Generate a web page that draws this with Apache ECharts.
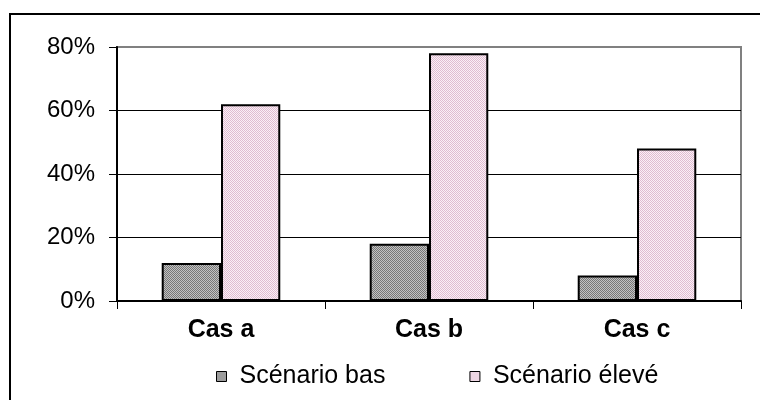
<!DOCTYPE html>
<html>
<head>
<meta charset="utf-8">
<script src="https://cdn.jsdelivr.net/npm/echarts@6/dist/echarts.min.js"></script>
<style>
  html, body { margin: 0; padding: 0; background: #fff; }
  #chart { width: 760px; height: 400px; }
</style>
</head>
<body>
<div id="chart"></div>
<script>
  // data
  const categories = ['Cas a', 'Cas b', 'Cas c']
  const scenarioBas = [12, 18, 8]
  const scenarioEleve = [62, 78, 48]
  const seriesNames = ['Scénario bas', 'Scénario élevé']

  // small 2x2 dither patterns, like the old office fills
  function makePattern(c1, c2) {
    let cv = document.createElement('canvas')
    cv.width = 2
    cv.height = 2
    let ctx = cv.getContext('2d')
    ctx.fillStyle = c2
    ctx.fillRect(0, 0, 2, 2)
    ctx.fillStyle = c1
    ctx.fillRect(0, 0, 1, 1)
    ctx.fillRect(1, 1, 1, 1)
    return { image: cv, repeat: 'repeat' }
  }
  const grayFill = makePattern('#777777', '#c2c2c2')
  const pinkFill = makePattern('#e0bcd1', '#faf0f6')

  const font = '"Liberation Sans", Arial, sans-serif'

  let chart = echarts.init(document.getElementById('chart'), null, { renderer: 'canvas' })
  chart.setOption({
    animation: false,
    backgroundColor: '#fff',
    graphic: [{
      type: 'rect',
      shape: { x: 10, y: 14, width: 800, height: 450 },
      style: { fill: 'none', stroke: '#000', lineWidth: 2 },
      silent: true
    }],
    grid: {
      left: 117,
      right: 19,
      top: 47,
      bottom: 99,
      show: true,
      borderColor: '#808080',
      borderWidth: 2
    },
    legend: {
      data: seriesNames,
      left: 211,
      top: 359,
      icon: 'rect',
      itemWidth: 10,
      itemHeight: 10,
      itemGap: 84,
      itemStyle: { borderColor: '#000', borderWidth: 1 },
      textStyle: { fontFamily: font, fontSize: 25, color: '#000', padding: [0, 0, 0, 8] }
    },
    xAxis: {
      type: 'category',
      data: categories,
      axisLine: { lineStyle: { color: '#000', width: 2 } },
      axisTick: { show: true, length: 8, lineStyle: { color: '#000' } },
      axisLabel: { fontFamily: font, fontSize: 25, fontWeight: 'bold', color: '#000', margin: 17 }
    },
    yAxis: {
      type: 'value',
      min: 0,
      max: 80,
      interval: 20,
      axisLine: { show: true, lineStyle: { color: '#000', width: 2 } },
      axisTick: { show: true, length: 8, lineStyle: { color: '#000' } },
      axisLabel: {
        fontFamily: font, fontSize: 24, color: '#000', margin: 22,
        formatter: '{value}%'
      },
      splitLine: { show: true, showMaxLine: false, lineStyle: { color: '#000', width: 1 } }
    },
    series: [
      {
        name: seriesNames[0],
        type: 'bar',
        data: scenarioBas,
        barGap: '0%',
        barCategoryGap: '43%',
        itemStyle: { color: grayFill, borderColor: '#000', borderWidth: 2 }
      },
      {
        name: seriesNames[1],
        type: 'bar',
        data: scenarioEleve,
        itemStyle: { color: pinkFill, borderColor: '#000', borderWidth: 2 }
      }
    ]
  })
</script>
</body>
</html>
